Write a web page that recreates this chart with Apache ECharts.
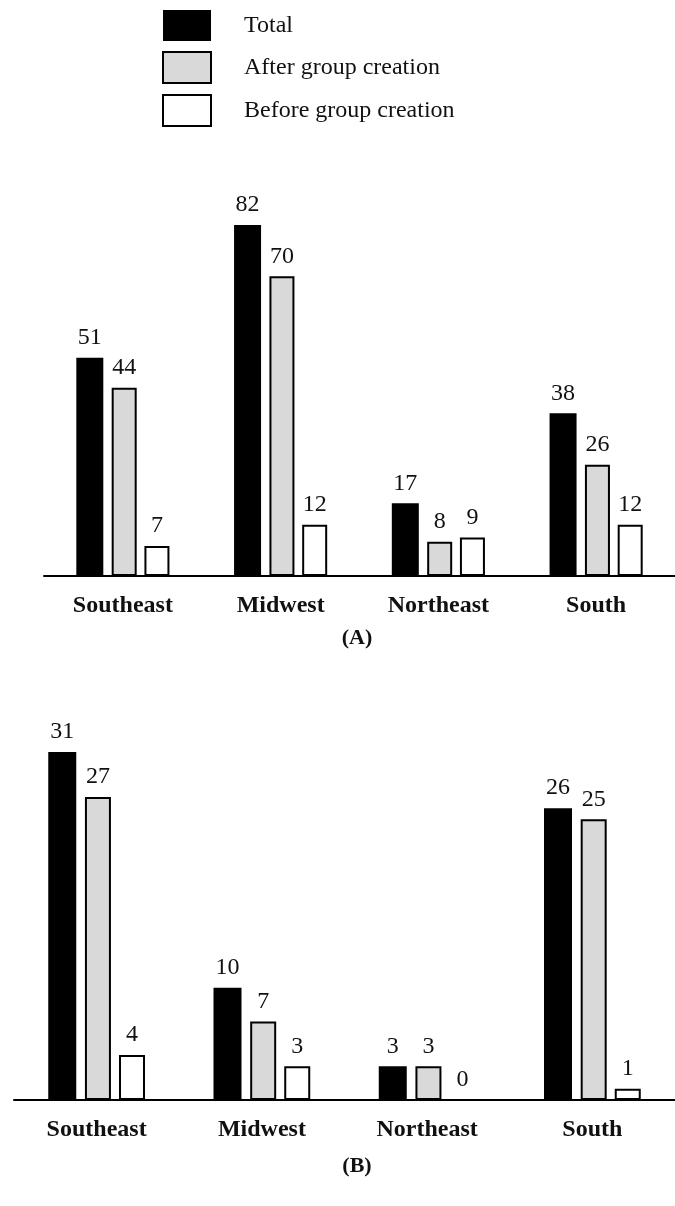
<!DOCTYPE html>
<html>
<head>
<meta charset="utf-8">
<script src="https://cdn.jsdelivr.net/npm/echarts@6/dist/echarts.min.js"></script>
<style>
  html, body { margin: 0; padding: 0; background: #fff; }
  #chart { width: 675px; height: 1206px; }
</style>
</head>
<body>
<div id="chart"></div>
<script>
const categories = ['Southeast', 'Midwest', 'Northeast', 'South']
const seriesNames = ['Total', 'After group creation', 'Before group creation']

// panel (A)
const totalA = [51, 82, 17, 38]
const afterA = [44, 70, 8, 26]
const beforeA = [7, 12, 9, 12]

// panel (B)
const totalB = [31, 10, 3, 26]
const afterB = [27, 7, 3, 25]
const beforeB = [4, 3, 0, 1]

const font = 'Liberation Serif'

const styles = [
  { color: '#000', borderColor: '#000', borderWidth: 0 },
  { color: '#d9d9d9', borderColor: '#000', borderWidth: 2 },
  { color: '#fff', borderColor: '#000', borderWidth: 2 }
]

const makeBar = (name, data, idx, styleIdx, barWidth) => ({
  name: name,
  type: 'bar',
  xAxisIndex: idx,
  yAxisIndex: idx,
  barWidth: barWidth,
  barGap: '31%',
  data: data,
  itemStyle: styles[styleIdx],
  label: {
    show: true,
    position: 'top',
    distance: 8,
    fontFamily: font,
    fontSize: 24,
    color: '#111'
  }
})

const chart = echarts.init(document.getElementById('chart'))

const option = {
  animation: false,
  backgroundColor: '#fff',
  legend: {
    orient: 'vertical',
    left: 157,
    top: 5,
    itemWidth: 48,
    itemHeight: 31,
    itemGap: 10,
    icon: 'rect',
    data: seriesNames,
    textStyle: {
      fontFamily: font,
      fontSize: 24,
      color: '#111',
      padding: [0, 0, 0, 28]
    }
  },
  grid: [
    { left: 44, right: -5, top: 225, height: 351 },
    { left: 14, right: -4, top: 752, height: 348 }
  ],
  xAxis: [0, 1].map(i => ({
    type: 'category',
    gridIndex: i,
    data: categories,
    axisLine: { lineStyle: { color: '#000', width: 2 } },
    axisTick: { show: false },
    axisLabel: {
      margin: 18,
      fontFamily: font,
      fontWeight: 'bold',
      fontSize: 24,
      color: '#111'
    }
  })),
  yAxis: [
    { type: 'value', gridIndex: 0, min: 0, max: 82, show: false },
    { type: 'value', gridIndex: 1, min: 0, max: 31, show: false }
  ],
  graphic: [
    {
      type: 'text', x: 357, y: 638,
      style: { text: '(A)', fontFamily: font, fontWeight: 'bold', fontSize: 22, fill: '#111', textAlign: 'center', textVerticalAlign: 'middle' }
    },
    {
      type: 'text', x: 357, y: 1166,
      style: { text: '(B)', fontFamily: font, fontWeight: 'bold', fontSize: 22, fill: '#111', textAlign: 'center', textVerticalAlign: 'middle' }
    }
  ],
  series: [
    makeBar(seriesNames[0], totalA, 0, 0, 27),
    makeBar(seriesNames[1], afterA, 0, 1, 25),
    makeBar(seriesNames[2], beforeA, 0, 2, 25),
    makeBar(seriesNames[0], totalB, 1, 0, 28),
    makeBar(seriesNames[1], afterB, 1, 1, 26),
    makeBar(seriesNames[2], beforeB.map(v => v === 0 ? { value: 0, itemStyle: { borderWidth: 0 } } : v), 1, 2, 26)
  ]
}

chart.setOption(option)
</script>
</body>
</html>
